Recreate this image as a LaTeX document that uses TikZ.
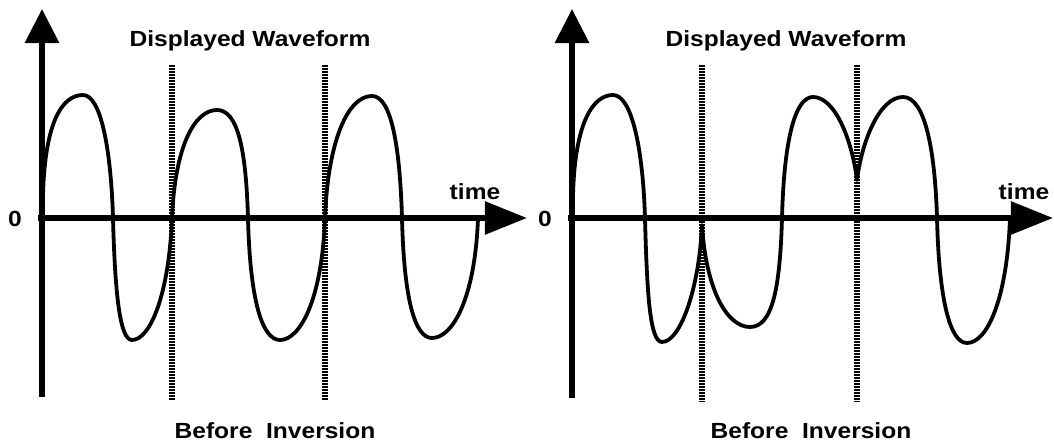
\documentclass[tikz,border=0pt]{standalone}
\usepackage{fontspec}
\newfontfamily\wavefont[FakeStretch=1.12]{Liberation Sans}
\usetikzlibrary{arrows.meta}

\begin{document}
\begin{tikzpicture}[x=0.025cm,y=-0.025cm,
  yaxis/.style={line width=4pt,-{Triangle[length=0.85cm,width=0.83cm]}},
  xaxis/.style={line width=4pt,-{Triangle[length=1.05cm,width=0.8cm]}},
  marker/.style={line width=3.6pt,dash pattern=on 1.35pt off 0.784pt},
  wave/.style={line width=2.7pt,line join=round},
  lbl/.style={font=\wavefont\bfseries\fontsize{15.6}{18}\selectfont,anchor=base,inner sep=0pt}
]
  \useasboundingbox (0,0) rectangle (1054,444);

  % Left: before inversion
  \draw[marker] (172,65) -- (172,400);
  \draw[marker] (325,65) -- (325,400);
  \draw[yaxis] (42,397) -- (42,9);
  \draw[xaxis] (38,218) -- (527,218);
  \draw[wave] (43,195) .. controls (45,120) and (63,95) .. (83,95)
    .. controls (101,95) and (111,150) .. (113,218)
    .. controls (115,295) and (120,340) .. (132,340)
    .. controls (150,340) and (169,295) .. (172,218)
    .. controls (175,145) and (195,110) .. (217,110)
    .. controls (238,110) and (246,150) .. (248,218)
    .. controls (250,300) and (262,340) .. (280,340)
    .. controls (300,340) and (322,300) .. (325,218)
    .. controls (328,140) and (348,96) .. (372,96)
    .. controls (392,96) and (400,150) .. (402,218)
    .. controls (404,300) and (415,338) .. (432,338)
    .. controls (452,338) and (475,300) .. (478,218);
  \node[lbl] (zeroL) at (15,227) {0};
  \node[lbl] (timeL) at (475,200) {time};
  \node[lbl] (dispL) at (250,47) {Displayed Waveform};
  \node[lbl] (befL) at (275,439) {Before\ \ Inversion};

  % Right: after inversion
  \draw[marker] (702,65) -- (702,402);
  \draw[marker] (857,65) -- (857,402);
  \draw[yaxis] (572,398) -- (572,9);
  \draw[xaxis] (568,218) -- (1053,218);
  \draw[wave] (573,195) .. controls (575,120) and (594,95) .. (613,95)
    .. controls (632,95) and (643,150) .. (645,218)
    .. controls (647,295) and (650,342) .. (662,342)
    .. controls (680,342) and (699,290) .. (702,225)
    .. controls (706,290) and (727,327) .. (750,327)
    .. controls (772,327) and (780,290) .. (782,218)
    .. controls (784,140) and (795,97) .. (813,97)
    .. controls (835,97) and (852,140) .. (857,180)
    .. controls (862,140) and (880,97) .. (903,97)
    .. controls (925,97) and (935,150) .. (937,218)
    .. controls (939,300) and (950,343) .. (967,343)
    .. controls (987,343) and (1007,300) .. (1010,218);
  \node[lbl] (zeroR) at (545,227) {0};
  \node[lbl] (timeR) at (1024,200) {time};
  \node[lbl] (dispR) at (786,47) {Displayed Waveform};
  \node[lbl] (befR) at (811,439) {Before\ \ Inversion};
\end{tikzpicture}
\end{document}
